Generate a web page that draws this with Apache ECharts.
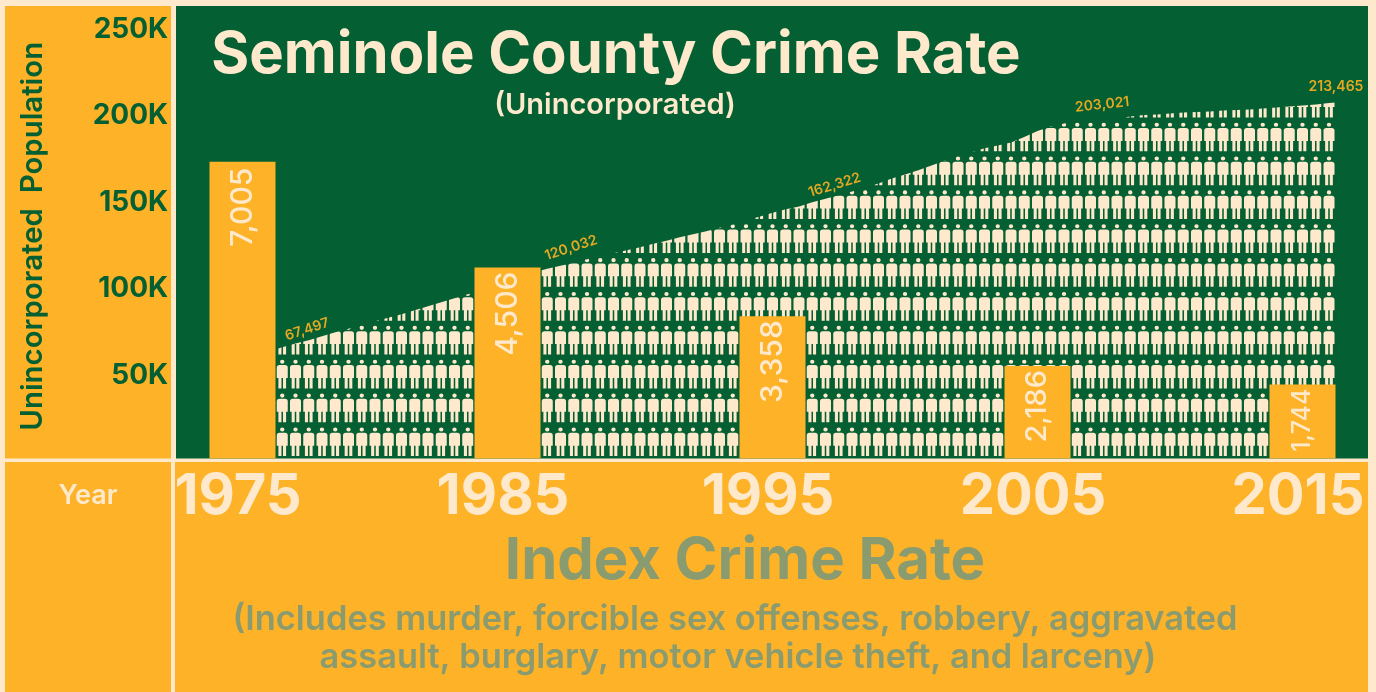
<!DOCTYPE html>
<html><head><meta charset="utf-8">
<style>html,body{margin:0;padding:0;background:#FEE9CD;width:1376px;height:692px;overflow:hidden}#c{width:1376px;height:692px}</style>
<script src="https://cdn.jsdelivr.net/npm/echarts@6/dist/echarts.min.js"></script>
</head><body><div id="c"></div>
<script>
// Data
const firstCategoryYear = 1972.5, lastCategoryYear = 2017.5;
const crimeYears = [1975, 1985, 1995, 2005, 2015];
const crimeRates = [7005, 4506, 3358, 2186, 1744];
const yTickLabels = [50, 100, 150, 200, 250];
const popStartYear = 1976;
// silhouette of the population pictogram, thousands, every half year from 1976
const population = [62.1,64.4,66.5,68.5,70.8,73.1,75.1,77.2,79.5,81.5,83.5,85.8,88.1,90.5,92.8,95.1,97.4,99.7,102.0,104.9,107.8,
 109.8,111.6,113.3,115.3,117.0,118.8,120.5,122.2,124.3,126.0,128.0,129.8,131.5,133.5,135.5,137.9,139.9,142.2,144.2,145.9,148.3,150.3,
 152.3,154.6,156.9,159.2,162.1,164.4,166.8,169.6,172.5,175.1,177.4,179.5,181.2,182.9,186.1,189.6,192.2,193.9,195.4,196.2,196.2,196.8,198.0,
 198.8,199.1,199.7,200.3,200.6,200.9,201.4,201.7,202.0,202.6,203.2,203.7,204.3,204.9,205.8,206.3];
const popLabelYears = [1978, 1987.5, 1997.5, 2007.5, 2016];
const popLabels = ['67,497', '120,032', '162,322', '203,021', '213,465'];

// Styles
const YELLOW = '#FDB228', GREEN = '#045F32', CREAM = '#FEE9CD', SAGE = '#8A9C6F', GOLD = '#E5A823';
const FONT = 'Inter';
const labelSizes = [30, 30, 30, 29, 25];
const labelDistances = [6, 4, 4, 4, 4];
const popLabelStyle = [
  {rotate: 18, offset: [-12, -11]}, {rotate: 18, offset: [2, -15]}, {rotate: 17, offset: [-1, -11]},
  {rotate: 6, offset: [0, -15]}, {rotate: 0, offset: [7, -16]}];
const PERSON = 'path://M30 20a20 20 0 1 0 40 0a20 20 0 1 0 -40 0ZM0 77Q0 52 25 52H75Q100 52 100 77V178H0ZM15 178H43V280H15ZM57 178H85V280H57Z';

const categories = [];
for (let y = firstCategoryYear; y <= lastCategoryYear; y += 0.5) categories.push(String(y));
const popByCat = c => { const i = (Number(c) - popStartYear) * 2; return i >= 0 && i < population.length ? population[i] : null; };
const popSeries = categories.map(popByCat);
const peopleSeries = categories.map(c => { const v = popByCat(c); return (v === null || Number(c) < 1976.5 || Number(c) > 2016) ? null : v; });
const barSeries = categories.map(c => {
  const i = crimeYears.indexOf(Number(c));
  return i < 0 ? null : {value: crimeRates[i], label: {fontSize: labelSizes[i], distance: labelDistances[i]}};
});

const txt = (text, x, y, size, color, weight, align) => ({
  type: 'text', z: 100, style: {text, x, y, fill: color, font: `${weight || 700} ${size}px ${FONT}`, textAlign: align || 'center', textVerticalAlign: 'middle'}
});
const rect = (x, y, w, h, fill) => ({type: 'rect', z: -1, shape: {x, y, width: w, height: h}, style: {fill}, silent: true});

const chart = echarts.init(document.getElementById('c'), null, {renderer: 'canvas'});
chart.setOption({
  animation: false,
  backgroundColor: CREAM,
  tooltip: {show: false},
  grid: {left: 176.25, right: 1376 - 1368.75, top: 6, height: 452.5, containLabel: false, outerBoundsMode: 'none'},
  xAxis: {
    type: 'category', data: categories, boundaryGap: false,
    axisLine: {show: false}, axisTick: {show: false}, splitLine: {show: false},
    axisLabel: {
      interval: (i, v) => crimeYears.includes(Number(v)),
      color: CREAM, fontFamily: FONT, fontWeight: 700, fontSize: 56, margin: 11, padding: [0, 9, 0, 0], hideOverlap: false
    }
  },
  yAxis: [
    {type: 'value', min: 0, max: 261.9, interval: 50,
     name: 'Unincorporated  Population', nameLocation: 'middle', nameGap: 129,
     nameTextStyle: {color: GREEN, fontFamily: FONT, fontWeight: 600, fontSize: 29.4, padding: [0, 8, 0, 0]},
     axisLine: {show: false}, axisTick: {show: false}, splitLine: {show: false},
     axisLabel: {color: GREEN, fontFamily: FONT, fontWeight: 700, fontSize: 28, margin: 8,
       rich: {k: {color: GREEN, fontFamily: FONT, fontWeight: 700, fontSize: 28, padding: [6, 0, 0, 0]}},
       formatter: v => yTickLabels.includes(v) ? '{k|' + v + 'K}' : ''}},
    {type: 'value', min: 0, max: 10680, show: false, splitLine: {show: false}}
  ],
  graphic: [
    rect(5, 6, 166, 452.5, YELLOW),
    rect(176, 6, 1192, 452.5, GREEN),
    rect(5, 462, 166, 230, YELLOW),
    rect(175, 462, 1193, 230, YELLOW),
    txt('Seminole County Crime Rate', 616, 56, 58, CREAM),
    txt('(Unincorporated)', 615, 105, 29, CREAM, 600),
    txt('Year', 88, 496, 27, CREAM, 600),
    txt('Index Crime Rate', 745, 562, 58, SAGE),
    txt('(Includes murder, forcible sex offenses, robbery, aggravated', 735, 620, 34.4, SAGE, 600),
    txt('assault, burglary, motor vehicle theft, and larceny)', 738, 658, 34.4, SAGE, 600)
  ],
  series: [
    {type: 'pictorialBar', name: 'People', z: 2, data: peopleSeries, xAxisIndex: 0, yAxisIndex: 0,
     symbol: PERSON, symbolSize: [11, 28.7], symbolRepeat: true, symbolMargin: 2.6,
     symbolBoundingData: 251.8, symbolPosition: 'start', symbolOffset: [0, -2.4],
     itemStyle: {color: CREAM}, silent: true},
    {type: 'line', name: 'Unincorporated population', z: 3, data: popSeries, showSymbol: false, symbol: 'none',
     lineStyle: {width: 0}, areaStyle: {origin: 'end', color: GREEN, opacity: 1}, silent: true},
    {type: 'bar', name: 'Index crime rate', z: 4, yAxisIndex: 1, data: barSeries, barWidth: 66, barGap: '-100%',
     itemStyle: {color: YELLOW},
     label: {show: true, position: 'insideTop', rotate: 90, align: 'right', verticalAlign: 'middle',
       color: CREAM, fontFamily: FONT, fontWeight: 500,
       formatter: p => p.value.toLocaleString('en-US')}},
    {type: 'scatter', name: 'Population labels', z: 5, symbolSize: 1, itemStyle: {color: 'transparent', opacity: 1}, silent: true,
     data: popLabelYears.map((y, i) => ({
       value: [String(y), popByCat(y)],
       label: {show: true, formatter: popLabels[i], position: 'inside', color: GOLD, opacity: 1, fontFamily: FONT, fontWeight: 600, fontSize: 14,
         rotate: popLabelStyle[i].rotate, offset: popLabelStyle[i].offset}
     }))}
  ]
});
</script></body></html>
